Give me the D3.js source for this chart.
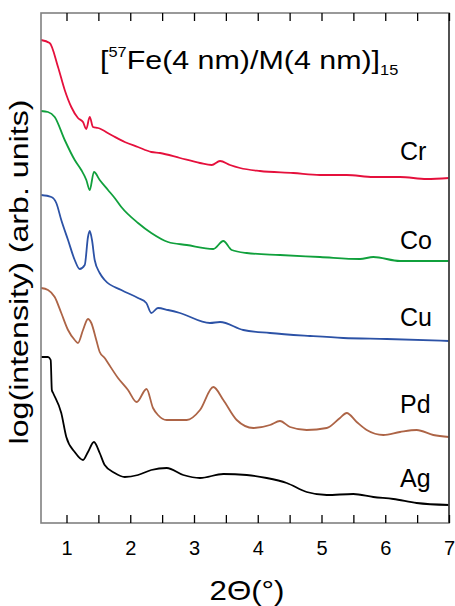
<html>
<head>
<style>
  body { margin: 0; background: #fff; }
  text { font-family: "Liberation Sans", Arial, sans-serif; fill: #000; }
  .axis path { display: none; }
  .axis line { stroke: #000; stroke-width: 1.3; }
</style>
</head>
<body>
<script src="https://d3js.org/d3.v7.min.js"></script>
<svg width="455" height="606"></svg>
<script>
// 2theta ticks and labels
var xTicks = [1, 1.5, 2, 2.5, 3, 3.5, 4, 4.5, 5, 5.5, 6, 6.5, 7];
var xLabels = [1, 2, 3, 4, 5, 6, 7];
var names = ["Cr", "Co", "Cu", "Pd", "Ag"];
var colors = ["#e5103c", "#10a03c", "#2c52a6", "#ad6446", "#000000"];

// [2theta, log intensity (arb. units, offset)]
var cr = [[0.6,48.3],[0.736,48.0],[0.867,45.6],[0.972,43.3],[1.075,41.6],[1.18,40.5],[1.259,40.1],[1.31,39.4],
  [1.364,40.6],[1.416,39.6],[1.494,39.5],[1.703,38.8],[1.913,38.1],[2.12,37.6],[2.33,37.1],[2.467,37.0],
  [2.78,36.5],[3.094,36.0],[3.278,35.8],[3.408,36.2],[3.565,35.8],[3.722,35.5],[4.035,35.2],[4.558,35.0],
  [4.976,34.8],[5.395,34.8],[5.813,34.6],[6.231,34.6],[6.65,34.4],[7.0,34.5]];
var co = [[0.6,41.2],[0.71,41.1],[0.815,40.6],[0.972,38.3],[1.129,36.3],[1.232,35.3],[1.311,34.3],[1.364,33.3],
  [1.431,35.1],[1.521,34.3],[1.651,33.3],[1.756,32.5],[1.86,31.6],[2.122,30.0],[2.33,29.0],[2.592,28.1],
  [2.886,27.8],[3.303,27.4],[3.46,28.2],[3.591,27.3],[3.827,27.0],[4.349,26.8],[4.976,26.6],[5.604,26.4],
  [5.813,26.6],[6.231,26.2],[7.0,26.2]];
var cu = [[0.6,32.8],[0.762,32.6],[0.84,32.0],[0.918,30.3],[1.024,28.3],[1.129,26.3],[1.207,25.4],[1.286,25.8],
  [1.337,28.6],[1.364,29.2],[1.4,28.3],[1.442,26.3],[1.521,25.0],[1.599,24.3],[1.86,23.3],[2.122,22.5],
  [2.252,22.0],[2.33,21.0],[2.435,21.5],[2.592,21.3],[2.78,21.0],[3.251,20.0],[3.408,20.1],[3.773,19.3],
  [4.192,19.0],[4.82,18.7],[5.342,18.5],[6.023,18.4],[7.0,18.2]];
var pd = [[0.6,23.5],[0.71,23.3],[0.815,22.6],[0.918,21.0],[1.024,19.3],[1.129,18.3],[1.18,18.0],[1.259,19.3],
  [1.337,20.4],[1.389,20.0],[1.467,18.3],[1.521,17.1],[1.599,16.5],[1.651,16.0],[1.808,14.5],[1.965,13.3],
  [2.101,12.1],[2.255,13.4],[2.357,11.5],[2.435,10.8],[2.572,10.3],[2.886,10.3],[3.094,11.3],[3.303,13.6],
  [3.46,12.3],[3.67,10.3],[3.93,9.5],[4.192,9.8],[4.349,10.2],[4.506,9.6],[4.768,9.3],[5.082,9.5],
  [5.29,10.5],[5.395,11.0],[5.552,10.1],[5.709,9.3],[5.97,8.8],[6.231,9.1],[6.493,9.3],[6.754,8.8],[7.0,8.6]];
var ag = [[0.6,16.6],[0.71,16.6],[0.752,16.3],[0.77,13.3],[0.79,13.0],[0.918,11.0],[0.997,8.6],[1.129,7.1],
  [1.259,6.3],[1.337,7.1],[1.431,8.1],[1.521,7.0],[1.599,5.8],[1.756,5.0],[1.913,4.6],[2.122,4.8],
  [2.33,5.3],[2.572,5.5],[2.832,4.8],[3.094,4.5],[3.46,4.9],[3.827,4.8],[4.14,4.5],[4.454,4.0],
  [4.768,3.1],[5.082,2.8],[5.499,2.9],[5.813,2.6],[6.127,2.4],[6.493,2.0],[7.0,1.8]];
var series = [cr, co, cu, pd, ag];

var mLeft = 41, mRight = 449, mTop = 13, mBottom = 523;
var labelY = [160, 249, 326, 413, 487];

var svg = d3.select("svg");

var x = d3.scaleLinear().domain([0.6, 7]).range([mLeft, mRight]);
var y = d3.scaleLinear().domain([0, 51]).range([mBottom, mTop]);

var line = d3.line()
  .x(function(d) { return x(d[0]); })
  .y(function(d) { return y(d[1]); })
  .curve(d3.curveMonotoneX);

svg.append("g")
  .selectAll("path")
  .data(series)
  .enter().append("path")
  .attr("d", line)
  .attr("fill", "none")
  .attr("stroke", function(d, i) { return colors[i]; })
  .attr("stroke-width", 1.8)
  .attr("stroke-linejoin", "round");

// frame
svg.append("rect")
  .attr("x", mLeft).attr("y", mTop)
  .attr("width", mRight - mLeft).attr("height", mBottom - mTop)
  .attr("fill", "none")
  .attr("stroke", "#808080")
  .attr("stroke-width", 1.6);
svg.append("line")
  .attr("x1", mRight).attr("x2", mRight)
  .attr("y1", mTop).attr("y2", mBottom)
  .attr("stroke", "#222").attr("stroke-width", 1.2);

var xAxis = d3.axisBottom(x)
  .tickValues(xTicks)
  .tickSizeInner(-8)
  .tickSizeOuter(0)
  .tickPadding(18)
  .tickFormat(function(d) { return xLabels.indexOf(d) >= 0 ? d : ""; });

var gx = svg.append("g")
  .attr("class", "axis")
  .attr("transform", "translate(0," + mBottom + ")")
  .call(xAxis);
gx.attr("font-size", null).attr("font-family", null);
gx.selectAll("text")
  .style("font-size", "20px");

// top ticks, pointing down into the frame
svg.append("g")
  .attr("class", "axis")
  .attr("transform", "translate(0," + mTop + ")")
  .call(d3.axisBottom(x).tickValues(xTicks).tickSizeInner(8).tickSizeOuter(0).tickFormat(""));

// series labels
svg.append("g")
  .selectAll("text")
  .data(names)
  .enter().append("text")
  .attr("x", 400)
  .attr("y", function(d, i) { return labelY[i]; })
  .style("font-size", "25px")
  .text(function(d) { return d; });

// title
var title = svg.append("text")
  .attr("transform", "translate(100,69) scale(1.17,1)")
  .style("font-size", "26px");
title.append("tspan").text("[");
title.append("tspan").attr("dy", -12).style("font-size", "14px").text("57");
title.append("tspan").attr("dy", 12).text("Fe(4 nm)/M(4 nm)]");
title.append("tspan").attr("dy", 6).style("font-size", "14px").text("15");

svg.append("text")
  .attr("transform", "translate(28,272) rotate(-90)")
  .attr("text-anchor", "middle")
  .attr("textLength", 345)
  .attr("lengthAdjust", "spacingAndGlyphs")
  .style("font-size", "25px")
  .text("log(intensity) (arb. units)");

svg.append("text")
  .attr("x", 247)
  .attr("y", 600)
  .attr("text-anchor", "middle")
  .attr("textLength", 75)
  .attr("lengthAdjust", "spacingAndGlyphs")
  .style("font-size", "28px")
  .text("2\u0398(\u00b0)");
</script>
</body>
</html>
